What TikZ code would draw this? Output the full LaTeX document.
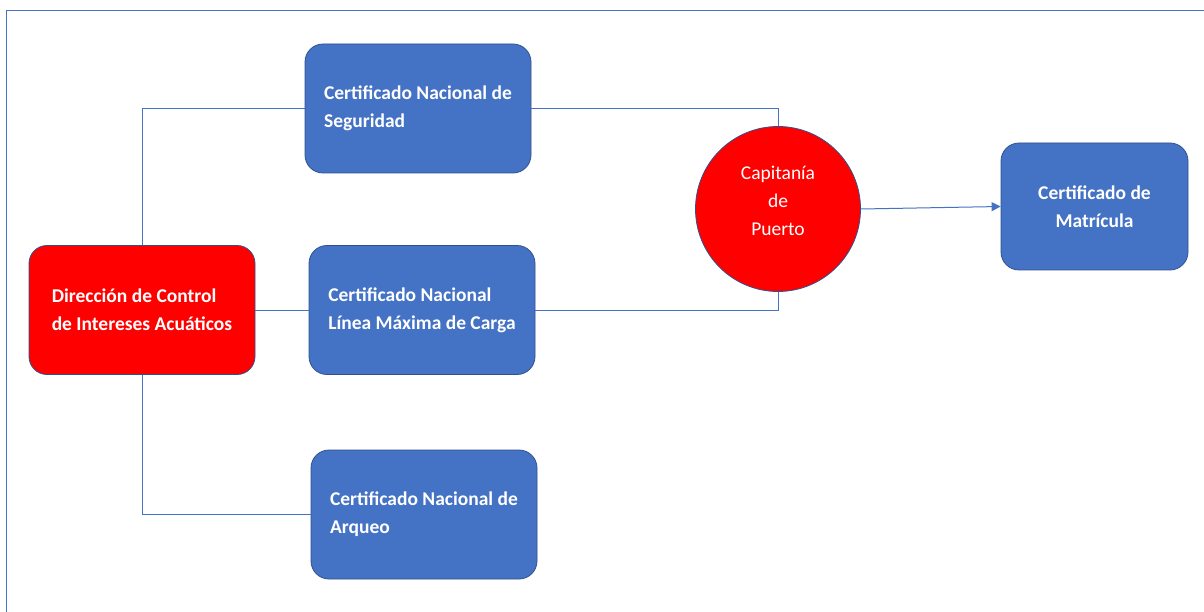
\documentclass[tikz,border=0pt]{standalone}
\usepackage{fontspec}
\setmainfont{Carlito}
\usetikzlibrary{arrows.meta}
\definecolor{boxblue}{HTML}{4472C4}
\definecolor{edgeblue}{HTML}{2F528F}
\definecolor{linkblue}{HTML}{4472C4}
\begin{document}
\begin{tikzpicture}[x=1pt,y=-1pt,
  cert/.style={draw=edgeblue, line width=0.8pt, fill=boxblue, rounded corners=18pt,
    text=white, align=left, font=\fontsize{19.5}{28}\selectfont\bfseries,
    minimum width=226pt, minimum height=129pt, inner sep=0pt},
  redbox/.style={cert, fill=red},
  hub/.style={circle, draw=edgeblue, line width=0.8pt, fill=red, minimum size=165pt, inner sep=0pt},
  hubtext/.style={text=white, align=center, font=\fontsize{19.5}{28}\selectfont, inner sep=0pt},
  link/.style={draw=linkblue, line width=1pt},
  arrowlink/.style={link, -{Triangle[length=9pt,width=9pt]}}
]
\useasboundingbox (0,0) rectangle (1204,612);
\fill[white] (0,0) rectangle (1204,612);
\draw[linkblue, line width=1.6pt] (1204,10.5) -- (6.5,10.5) -- (6.5,612);

\node[cert] (seg) at (418,108.5) {Certificado Nacional de\\Seguridad};
\node[redbox] (dir) at (142,310) {Dirección de Control\\de Intereses Acuáticos};
\node[cert] (lin) at (422,310) {Certificado Nacional\\Línea Máxima de Carga};
\node[cert] (arq) at (424,514.5) {Certificado Nacional de\\Arqueo};
\node[hub] (cap) at (778,209) {};
\node[hubtext] (captext) at ([yshift=8pt]cap.center) {Capitanía\\de\\Puerto};
\node[cert, align=center, minimum width=187pt, minimum height=127pt] (mat) at (1094.5,206.5) {Certificado de\\Matrícula};

\draw[link] (dir.north) |- (seg.west);
\draw[link] (seg.east) -| (cap.north);
\draw[link] (dir.east) -- (lin.west);
\draw[link] (lin.east) -| (cap.south);
\draw[link] (dir.south) |- (arq.west);
\draw[arrowlink] (cap.east) -- (mat.west);
\end{tikzpicture}
\end{document}
